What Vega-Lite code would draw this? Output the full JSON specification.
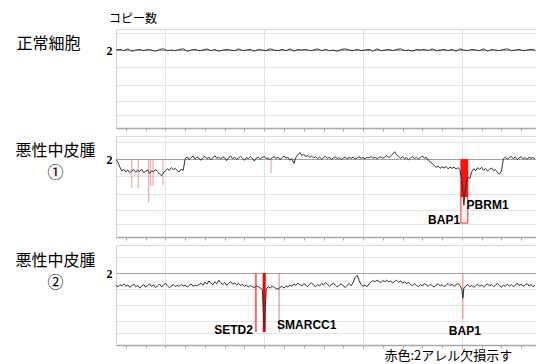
{
"$schema":"https://vega.github.io/schema/vega-lite/v6.json",
"padding":{"left":14,"top":12,"right":0,"bottom":0},
"background":"white",
"spacing":3,
"config":{"view":{"stroke":"#dcdcdc"}},
"datasets":{
"n":[{"x":0,"y":2.0},{"x":4,"y":2.015},{"x":8,"y":1.985},{"x":12,"y":2.03},{"x":16,"y":1.97},{"x":20,"y":2.0},{"x":24,"y":2.015},{"x":28,"y":1.985},{"x":32,"y":2.015},{"x":36,"y":2.0},{"x":40,"y":1.97},{"x":44,"y":2.015},{"x":48,"y":2.03},{"x":52,"y":1.985},{"x":56,"y":2.0},{"x":60,"y":1.985},{"x":64,"y":2.015},{"x":68,"y":2.03},{"x":72,"y":1.97},{"x":76,"y":2.0},{"x":80,"y":2.015},{"x":84,"y":1.985},{"x":88,"y":2.0},{"x":92,"y":2.03},{"x":96,"y":1.985},{"x":100,"y":2.015},{"x":104,"y":1.97},{"x":108,"y":2.0},{"x":112,"y":2.015},{"x":116,"y":2.0},{"x":120,"y":1.985},{"x":124,"y":2.03},{"x":128,"y":1.985},{"x":132,"y":2.0},{"x":136,"y":2.015},{"x":140,"y":1.97},{"x":144,"y":2.015},{"x":148,"y":2.0},{"x":152,"y":1.985},{"x":156,"y":2.03},{"x":160,"y":2.0},{"x":164,"y":1.985},{"x":168,"y":2.015},{"x":172,"y":1.985},{"x":176,"y":2.03},{"x":180,"y":1.97},{"x":184,"y":2.015},{"x":188,"y":2.0},{"x":192,"y":2.015},{"x":196,"y":1.985},{"x":200,"y":2.0},{"x":204,"y":2.03},{"x":208,"y":1.985},{"x":212,"y":2.015},{"x":216,"y":1.985},{"x":220,"y":2.0},{"x":224,"y":1.97},{"x":228,"y":2.015},{"x":232,"y":2.03},{"x":236,"y":2.0},{"x":240,"y":1.985},{"x":244,"y":2.015},{"x":248,"y":1.985},{"x":252,"y":2.0},{"x":256,"y":2.015},{"x":260,"y":1.97},{"x":264,"y":2.03},{"x":268,"y":1.985},{"x":272,"y":2.0},{"x":276,"y":2.015},{"x":280,"y":1.985},{"x":284,"y":2.015},{"x":288,"y":2.03},{"x":292,"y":1.985},{"x":296,"y":2.0},{"x":300,"y":1.97},{"x":304,"y":2.015},{"x":308,"y":2.0},{"x":312,"y":2.015},{"x":316,"y":1.985},{"x":320,"y":2.03},{"x":324,"y":1.985},{"x":328,"y":2.0},{"x":332,"y":2.015},{"x":336,"y":1.985},{"x":340,"y":2.015},{"x":344,"y":1.97},{"x":348,"y":2.03},{"x":352,"y":2.0},{"x":356,"y":1.985},{"x":360,"y":2.015},{"x":364,"y":2.0},{"x":368,"y":1.985},{"x":372,"y":2.03},{"x":376,"y":1.97},{"x":380,"y":2.015},{"x":384,"y":2.0},{"x":388,"y":1.985},{"x":392,"y":2.015},{"x":396,"y":2.03},{"x":400,"y":1.985},{"x":404,"y":2.0},{"x":408,"y":2.015},{"x":412,"y":1.985},{"x":416,"y":2.0},{"x":420,"y":2.015},{"x":424,"y":2.0}],
"m1":[{"x":0,"y":2.0},{"x":2,"y":1.93},{"x":4,"y":1.8},{"x":6,"y":1.7},{"x":8,"y":1.75},{"x":10,"y":1.68},{"x":12,"y":1.73},{"x":14,"y":1.66},{"x":16,"y":1.71},{"x":18,"y":1.74},{"x":20,"y":1.67},{"x":22,"y":1.72},{"x":24,"y":1.69},{"x":26,"y":1.75},{"x":28,"y":1.66},{"x":30,"y":1.7},{"x":32,"y":1.73},{"x":34,"y":1.64},{"x":36,"y":1.71},{"x":38,"y":1.68},{"x":40,"y":1.74},{"x":42,"y":1.69},{"x":44,"y":1.63},{"x":46,"y":1.58},{"x":48,"y":1.66},{"x":50,"y":1.71},{"x":52,"y":1.76},{"x":54,"y":1.72},{"x":56,"y":1.79},{"x":58,"y":1.74},{"x":60,"y":1.77},{"x":62,"y":1.71},{"x":64,"y":1.68},{"x":66,"y":1.75},{"x":68,"y":1.72},{"x":70,"y":2.02},{"x":72,"y":2.07},{"x":74,"y":2.0},{"x":76,"y":2.05},{"x":78,"y":2.09},{"x":80,"y":2.01},{"x":82,"y":2.06},{"x":84,"y":2.03},{"x":86,"y":1.98},{"x":88,"y":2.05},{"x":90,"y":2.08},{"x":92,"y":2.02},{"x":94,"y":2.06},{"x":96,"y":1.99},{"x":98,"y":2.04},{"x":100,"y":2.1},{"x":102,"y":2.03},{"x":104,"y":2.06},{"x":106,"y":2.01},{"x":108,"y":2.07},{"x":110,"y":2.04},{"x":112,"y":1.97},{"x":114,"y":2.05},{"x":116,"y":2.09},{"x":118,"y":2.02},{"x":120,"y":2.06},{"x":122,"y":2.0},{"x":124,"y":2.04},{"x":126,"y":2.08},{"x":128,"y":2.03},{"x":130,"y":1.98},{"x":132,"y":2.05},{"x":134,"y":2.02},{"x":136,"y":2.07},{"x":138,"y":2.03},{"x":140,"y":1.96},{"x":142,"y":2.04},{"x":144,"y":2.06},{"x":146,"y":2.01},{"x":148,"y":2.05},{"x":150,"y":2.08},{"x":152,"y":2.02},{"x":154,"y":2.04},{"x":156,"y":1.99},{"x":158,"y":2.05},{"x":160,"y":2.07},{"x":162,"y":2.03},{"x":164,"y":2.06},{"x":166,"y":2.0},{"x":168,"y":2.04},{"x":170,"y":2.09},{"x":172,"y":2.03},{"x":174,"y":2.06},{"x":176,"y":1.98},{"x":178,"y":2.02},{"x":180,"y":1.9},{"x":182,"y":2.05},{"x":184,"y":2.12},{"x":186,"y":2.18},{"x":188,"y":2.1},{"x":190,"y":2.14},{"x":192,"y":2.07},{"x":194,"y":2.11},{"x":196,"y":2.05},{"x":198,"y":2.09},{"x":200,"y":2.04},{"x":202,"y":2.07},{"x":204,"y":2.02},{"x":206,"y":2.06},{"x":208,"y":2.01},{"x":210,"y":2.05},{"x":212,"y":2.08},{"x":214,"y":2.03},{"x":216,"y":2.06},{"x":218,"y":2.0},{"x":220,"y":2.04},{"x":222,"y":2.07},{"x":224,"y":2.02},{"x":226,"y":2.05},{"x":228,"y":1.99},{"x":230,"y":2.04},{"x":232,"y":2.06},{"x":234,"y":2.02},{"x":236,"y":2.05},{"x":238,"y":2.03},{"x":240,"y":2.06},{"x":242,"y":2.01},{"x":244,"y":2.04},{"x":246,"y":2.07},{"x":248,"y":2.03},{"x":250,"y":2.05},{"x":252,"y":2.01},{"x":254,"y":2.06},{"x":256,"y":2.04},{"x":258,"y":2.08},{"x":260,"y":2.03},{"x":262,"y":2.06},{"x":264,"y":2.02},{"x":266,"y":2.05},{"x":268,"y":2.07},{"x":270,"y":2.03},{"x":272,"y":2.06},{"x":274,"y":2.1},{"x":276,"y":2.05},{"x":278,"y":2.09},{"x":280,"y":2.14},{"x":282,"y":2.2},{"x":284,"y":2.12},{"x":286,"y":2.08},{"x":288,"y":2.03},{"x":290,"y":2.07},{"x":292,"y":2.02},{"x":294,"y":2.05},{"x":296,"y":1.99},{"x":298,"y":2.04},{"x":300,"y":2.07},{"x":302,"y":2.02},{"x":304,"y":2.06},{"x":306,"y":2.01},{"x":308,"y":2.05},{"x":310,"y":2.09},{"x":312,"y":2.03},{"x":314,"y":2.06},{"x":316,"y":1.98},{"x":318,"y":1.94},{"x":320,"y":1.9},{"x":322,"y":1.84},{"x":324,"y":1.8},{"x":326,"y":1.83},{"x":328,"y":1.77},{"x":330,"y":1.81},{"x":332,"y":1.78},{"x":334,"y":1.82},{"x":336,"y":1.76},{"x":338,"y":1.8},{"x":340,"y":1.77},{"x":342,"y":1.81},{"x":344,"y":1.75},{"x":346,"y":1.79},{"x":348,"y":1.74},{"x":350,"y":1.45},{"x":352,"y":0.82},{"x":354,"y":1.3},{"x":356,"y":1.55},{"x":358,"y":1.5},{"x":360,"y":1.68},{"x":362,"y":1.76},{"x":364,"y":1.71},{"x":366,"y":1.79},{"x":368,"y":1.74},{"x":370,"y":1.8},{"x":372,"y":1.72},{"x":374,"y":1.77},{"x":376,"y":1.7},{"x":378,"y":1.75},{"x":380,"y":1.78},{"x":382,"y":1.71},{"x":384,"y":1.74},{"x":386,"y":1.66},{"x":388,"y":1.62},{"x":390,"y":1.7},{"x":392,"y":2.02},{"x":394,"y":2.06},{"x":396,"y":2.01},{"x":398,"y":2.05},{"x":400,"y":2.08},{"x":402,"y":2.02},{"x":404,"y":2.06},{"x":406,"y":2.0},{"x":408,"y":2.04},{"x":410,"y":2.07},{"x":412,"y":2.02},{"x":414,"y":2.05},{"x":416,"y":2.0},{"x":418,"y":2.06},{"x":420,"y":2.03},{"x":422,"y":2.05},{"x":424,"y":2.02}],
"m2":[{"x":0,"y":1.66},{"x":2,"y":1.62},{"x":4,"y":1.68},{"x":6,"y":1.64},{"x":8,"y":1.7},{"x":10,"y":1.63},{"x":12,"y":1.67},{"x":14,"y":1.6},{"x":16,"y":1.65},{"x":18,"y":1.69},{"x":20,"y":1.62},{"x":22,"y":1.66},{"x":24,"y":1.58},{"x":26,"y":1.64},{"x":28,"y":1.68},{"x":30,"y":1.61},{"x":32,"y":1.65},{"x":34,"y":1.7},{"x":36,"y":1.63},{"x":38,"y":1.67},{"x":40,"y":1.6},{"x":42,"y":1.64},{"x":44,"y":1.69},{"x":46,"y":1.62},{"x":48,"y":1.66},{"x":50,"y":1.72},{"x":52,"y":1.65},{"x":54,"y":1.59},{"x":56,"y":1.64},{"x":58,"y":1.68},{"x":60,"y":1.62},{"x":62,"y":1.66},{"x":64,"y":1.63},{"x":66,"y":1.69},{"x":68,"y":1.64},{"x":70,"y":1.67},{"x":72,"y":1.61},{"x":74,"y":1.65},{"x":76,"y":1.7},{"x":78,"y":1.63},{"x":80,"y":1.67},{"x":82,"y":1.64},{"x":84,"y":1.68},{"x":86,"y":1.72},{"x":88,"y":1.66},{"x":90,"y":1.75},{"x":92,"y":1.69},{"x":94,"y":1.78},{"x":96,"y":1.72},{"x":98,"y":1.68},{"x":100,"y":1.76},{"x":102,"y":1.7},{"x":104,"y":1.8},{"x":106,"y":1.73},{"x":108,"y":1.68},{"x":110,"y":1.74},{"x":112,"y":1.66},{"x":114,"y":1.71},{"x":116,"y":1.76},{"x":118,"y":1.69},{"x":120,"y":1.73},{"x":122,"y":1.67},{"x":124,"y":1.72},{"x":126,"y":1.65},{"x":128,"y":1.69},{"x":130,"y":1.63},{"x":132,"y":1.67},{"x":134,"y":1.61},{"x":136,"y":1.65},{"x":138,"y":1.62},{"x":140,"y":1.6},{"x":142,"y":1.64},{"x":144,"y":1.62},{"x":146,"y":1.58},{"x":148,"y":1.55},{"x":150,"y":0.45},{"x":152,"y":1.55},{"x":154,"y":1.62},{"x":156,"y":1.58},{"x":158,"y":1.64},{"x":160,"y":1.6},{"x":162,"y":1.57},{"x":164,"y":1.55},{"x":166,"y":1.6},{"x":168,"y":1.63},{"x":170,"y":1.58},{"x":172,"y":1.65},{"x":174,"y":1.61},{"x":176,"y":1.67},{"x":178,"y":1.63},{"x":180,"y":1.7},{"x":182,"y":1.66},{"x":184,"y":1.72},{"x":186,"y":1.68},{"x":188,"y":1.64},{"x":190,"y":1.7},{"x":192,"y":1.67},{"x":194,"y":1.62},{"x":196,"y":1.69},{"x":198,"y":1.73},{"x":200,"y":1.66},{"x":202,"y":1.62},{"x":204,"y":1.68},{"x":206,"y":1.64},{"x":208,"y":1.71},{"x":210,"y":1.67},{"x":212,"y":1.74},{"x":214,"y":1.69},{"x":216,"y":1.63},{"x":218,"y":1.68},{"x":220,"y":1.72},{"x":222,"y":1.66},{"x":224,"y":1.61},{"x":226,"y":1.67},{"x":228,"y":1.7},{"x":230,"y":1.64},{"x":232,"y":1.6},{"x":234,"y":1.66},{"x":236,"y":1.71},{"x":238,"y":1.65},{"x":240,"y":1.74},{"x":242,"y":1.88},{"x":244,"y":1.94},{"x":246,"y":1.8},{"x":248,"y":1.68},{"x":250,"y":1.63},{"x":252,"y":1.67},{"x":254,"y":1.62},{"x":256,"y":1.7},{"x":258,"y":1.75},{"x":260,"y":1.79},{"x":262,"y":1.76},{"x":264,"y":1.8},{"x":266,"y":1.77},{"x":268,"y":1.74},{"x":270,"y":1.79},{"x":272,"y":1.76},{"x":274,"y":1.81},{"x":276,"y":1.75},{"x":278,"y":1.78},{"x":280,"y":1.73},{"x":282,"y":1.77},{"x":284,"y":1.8},{"x":286,"y":1.74},{"x":288,"y":1.78},{"x":290,"y":1.72},{"x":292,"y":1.76},{"x":294,"y":1.71},{"x":296,"y":1.74},{"x":298,"y":1.68},{"x":300,"y":1.65},{"x":302,"y":1.7},{"x":304,"y":1.66},{"x":306,"y":1.62},{"x":308,"y":1.68},{"x":310,"y":1.64},{"x":312,"y":1.71},{"x":314,"y":1.67},{"x":316,"y":1.63},{"x":318,"y":1.69},{"x":320,"y":1.65},{"x":322,"y":1.61},{"x":324,"y":1.67},{"x":326,"y":1.7},{"x":328,"y":1.64},{"x":330,"y":1.68},{"x":332,"y":1.62},{"x":334,"y":1.66},{"x":336,"y":1.71},{"x":338,"y":1.65},{"x":340,"y":1.69},{"x":342,"y":1.63},{"x":344,"y":1.67},{"x":346,"y":1.71},{"x":348,"y":1.66},{"x":350,"y":1.55},{"x":351,"y":1.3},{"x":352,"y":1.58},{"x":354,"y":1.64},{"x":356,"y":1.68},{"x":358,"y":1.62},{"x":360,"y":1.66},{"x":362,"y":1.6},{"x":364,"y":1.65},{"x":366,"y":1.69},{"x":368,"y":1.63},{"x":370,"y":1.67},{"x":372,"y":1.61},{"x":374,"y":1.66},{"x":376,"y":1.7},{"x":378,"y":1.64},{"x":380,"y":1.68},{"x":382,"y":1.62},{"x":384,"y":1.66},{"x":386,"y":1.71},{"x":388,"y":1.65},{"x":390,"y":1.61},{"x":392,"y":1.67},{"x":394,"y":1.63},{"x":396,"y":1.69},{"x":398,"y":1.64},{"x":400,"y":1.68},{"x":402,"y":1.62},{"x":404,"y":1.66},{"x":406,"y":1.72},{"x":408,"y":1.65},{"x":410,"y":1.69},{"x":412,"y":1.63},{"x":414,"y":1.67},{"x":416,"y":1.71},{"x":418,"y":1.64},{"x":420,"y":1.68},{"x":422,"y":1.62},{"x":424,"y":1.66}],
"r2":[{"x":16,"y":2,"y2":1.26},{"x":22.5,"y":2,"y2":1.26},{"x":33,"y":2,"y2":0.9},{"x":35,"y":2,"y2":1.32},{"x":37.5,"y":2,"y2":1.32},{"x":47.5,"y":2,"y2":1.34},{"x":157,"y":2,"y2":1.65}],
"b2":[{"x":349,"x2":356,"y":2,"y2":0.36}],
"s2":[{"x":349,"x2":356,"y":2,"y2":1.03}],
"t2":[{"x":332,"y":0.44,"t":"BAP1"},{"x":376,"y":0.83,"t":"PBRM1"}],
"b3a":[{"x":140.5,"x2":142.5,"y":2,"y2":0.36}],
"b3b":[{"x":148.5,"x2":151.5,"y":2,"y2":0.36}],
"r3a":[{"x":165,"y":2,"y2":0.36}],
"r3b":[{"x":351,"y":2,"y2":0.72}],
"t3":[{"x":119,"y":0.42,"t":"SETD2"},{"x":193,"y":0.56,"t":"SMARCC1"},{"x":353,"y":0.39,"t":"BAP1"}]
},
"vconcat":[
{
"width":420,"height":99,
"title":{"text":"コピー数","anchor":"start","frame":"group","dx":-7,"offset":3,"fontSize":12,"fontWeight":"normal","font":"Noto Sans CJK JP","color":"#000"},
"data":{"name":"n"},
"mark":{"type":"line","color":"#333","strokeWidth":1},
"encoding":{
"x":{"field":"x","type":"quantitative","scale":{"domain":[0,425],"nice":false,"zero":false},"axis":{"values":[10,30,50,70,90,110,130,150,170,190,210,230,250,270,290,310,330,350,370,390,410],"labels":false,"title":null,"tickSize":3,"tickColor":"#aaa","domainColor":"#a8a8a8","domainWidth":1.5,"grid":true,"gridOpacity":{"condition":{"test":"datum.value % 100 == 50","value":1},"value":0},"gridColor":"#e4e4e4"}},
"y":{"field":"y","type":"quantitative","scale":{"domain":[0,2.54],"nice":false,"zero":false},"axis":{"values":[0.34,0.7,1.1,1.57,2,2.45],"labelExpr":"datum.value == 2 ? '2' : ''","labelFont":"Liberation Serif","labelFontWeight":"bold","labelFontSize":12,"labelColor":"#000","labelPadding":4,"tickSize":0,"domainColor":"#cfcfcf","gridColor":{"condition":{"test":"datum.value == 2","value":"#a0a0a0"},"value":"#e4e4e4"},"title":"正常細胞","titleAngle":0,"titleAlign":"center","titleBaseline":"top","titleX":-68,"titleY":6,"titleFont":"Noto Sans CJK JP","titleFontSize":16,"titleFontWeight":"normal","titleColor":"#000"}}
}
},
{
"width":420,"height":101,
"encoding":{
"x":{"field":"x","type":"quantitative","scale":{"domain":[0,425],"nice":false,"zero":false},"axis":{"values":[10,30,50,70,90,110,130,150,170,190,210,230,250,270,290,310,330,350,370,390,410],"labels":false,"title":null,"tickSize":3,"tickColor":"#aaa","domainColor":"#a8a8a8","domainWidth":1.5,"grid":true,"gridOpacity":{"condition":{"test":"datum.value % 100 == 50","value":1},"value":0},"gridColor":"#e4e4e4"}},
"y":{"field":"y","type":"quantitative","scale":{"domain":[0,2.606],"nice":false,"zero":false},"axis":{"values":[0.34,0.7,1.1,1.57,2,2.45],"labelExpr":"datum.value == 2 ? '2' : ''","labelFont":"Liberation Serif","labelFontWeight":"bold","labelFontSize":12,"labelColor":"#000","labelPadding":4,"tickSize":0,"domainColor":"#cfcfcf","gridColor":{"condition":{"test":"datum.value == 2","value":"#a0a0a0"},"value":"#e4e4e4"},"title":["悪性中皮腫","①"],"titleAngle":0,"titleAlign":"center","titleBaseline":"top","titleX":-61,"titleY":6,"titleLineHeight":22,"titleFont":"Noto Sans CJK JP","titleFontSize":16,"titleFontWeight":"normal","titleColor":"#000"}}
},
"layer":[
{"data":{"name":"r2"},"mark":{"type":"rule","color":"#f29a9a","strokeWidth":1},"encoding":{"y2":{"field":"y2"}}},
{"data":{"name":"b2"},"mark":{"type":"rect","fill":"#fff4f4","stroke":"#ff2020","strokeWidth":1},"encoding":{"x2":{"field":"x2"},"y2":{"field":"y2"}}},
{"data":{"name":"s2"},"mark":{"type":"rect","color":"#ff1010"},"encoding":{"x2":{"field":"x2"},"y2":{"field":"y2"}}},
{"data":{"name":"m1"},"mark":{"type":"line","color":"#333","strokeWidth":1},"encoding":{}},
{"data":{"name":"t2"},"mark":{"type":"text","font":"Liberation Sans","fontWeight":"bold","fontSize":12,"align":"center","baseline":"middle","color":"#000"},"encoding":{"text":{"field":"t"}}}
]
},
{
"width":420,"height":100,
"encoding":{
"x":{"field":"x","type":"quantitative","scale":{"domain":[0,425],"nice":false,"zero":false},"axis":{"values":[10,30,50,70,90,110,130,150,170,190,210,230,250,270,290,310,330,350,370,390,410],"labels":false,"tickSize":3,"tickColor":"#aaa","domainColor":"#a8a8a8","domainWidth":1.5,"grid":true,"gridOpacity":{"condition":{"test":"datum.value % 100 == 50","value":1},"value":0},"gridColor":"#e4e4e4","title":"赤色:2アレル欠損示す","titleAlign":"left","titleAnchor":"start","titleX":268,"titleY":10,"titleBaseline":"middle","titleFont":"Noto Sans CJK JP","titleFontSize":13,"titleFontWeight":"normal","titleColor":"#000"}},
"y":{"field":"y","type":"quantitative","scale":{"domain":[0,2.78],"nice":false,"zero":false},"axis":{"values":[0.34,0.68,1.1,1.57,2,2.44],"labelExpr":"datum.value == 2 ? '2' : ''","labelFont":"Liberation Serif","labelFontWeight":"bold","labelFontSize":12,"labelColor":"#000","labelPadding":4,"tickSize":0,"domainColor":"#cfcfcf","gridColor":{"condition":{"test":"datum.value == 2","value":"#a0a0a0"},"value":"#e4e4e4"},"title":["悪性中皮腫","②"],"titleAngle":0,"titleAlign":"center","titleBaseline":"top","titleX":-61,"titleY":7,"titleLineHeight":22,"titleFont":"Noto Sans CJK JP","titleFontSize":16,"titleFontWeight":"normal","titleColor":"#000"}}
},
"layer":[
{"data":{"name":"b3a"},"mark":{"type":"rect","color":"#f26b6b"},"encoding":{"x2":{"field":"x2"},"y2":{"field":"y2"}}},
{"data":{"name":"b3b"},"mark":{"type":"rect","color":"#ff0000"},"encoding":{"x2":{"field":"x2"},"y2":{"field":"y2"}}},
{"data":{"name":"r3a"},"mark":{"type":"rule","color":"#b98a8a","strokeWidth":1},"encoding":{"y2":{"field":"y2"}}},
{"data":{"name":"r3b"},"mark":{"type":"rule","color":"#f58080","strokeWidth":1},"encoding":{"y2":{"field":"y2"}}},
{"data":{"name":"m2"},"mark":{"type":"line","color":"#333","strokeWidth":1},"encoding":{}},
{"data":{"name":"t3"},"mark":{"type":"text","font":"Liberation Sans","fontWeight":"bold","fontSize":12,"align":"center","baseline":"middle","color":"#000"},"encoding":{"text":{"field":"t"}}}
]
}
]
}
